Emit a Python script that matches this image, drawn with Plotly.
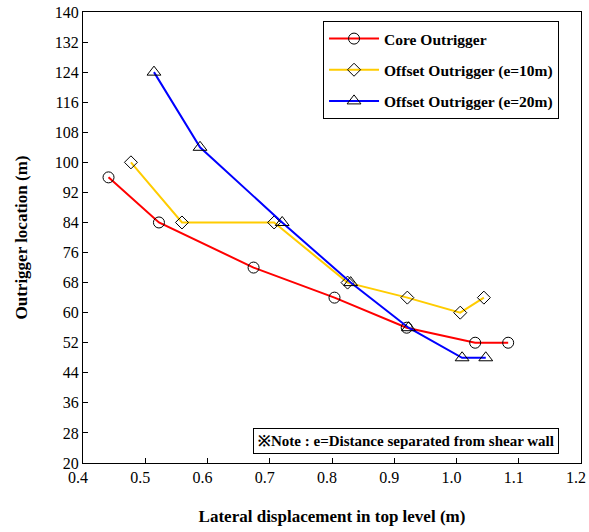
import plotly.graph_objects as go

# Data
core_x = [0.441, 0.522, 0.674, 0.804, 0.920, 1.030, 1.083]
core_y = [96, 84, 72, 64, 56, 52, 52]
off10_x = [0.477, 0.559, 0.707, 0.825, 0.921, 1.006, 1.044]
off10_y = [100, 84, 84, 68, 64, 60, 64]
off20_x = [0.514, 0.588, 0.720, 0.830, 0.923, 1.009, 1.047]
off20_y = [124, 104, 84, 68, 56, 48, 48]

names = ["Core Outrigger", "Offset Outrigger (e=10m)", "Offset Outrigger (e=20m)"]
x_ticks = [0.4, 0.5, 0.6, 0.7, 0.8, 0.9, 1.0, 1.1, 1.2]
y_ticks = list(range(20, 141, 8))

FONT = "'Liberation Serif', 'Times New Roman', Times, serif"

fig = go.Figure()
series = [
    (core_x, core_y, names[0], "#FF0000", "circle-open", 11),
    (off10_x, off10_y, names[1], "#FFCC00", "diamond-open", 10),
    (off20_x, off20_y, names[2], "#0000FF", "triangle-up-open", 12),
]
for i, (xs, ys, nm, col, sym, sz) in enumerate(series):
    fig.add_trace(go.Scatter(
        x=xs, y=ys, name=nm, mode="lines+markers", legendgroup=f"g{i}",
        line=dict(color=col, width=2),
        marker=dict(symbol=sym, size=sz, color="black", line=dict(color="black", width=1)),
    ))

fig.add_annotation(
    x=0.649, y=0.049, xref="paper", yref="paper", xanchor="center", yanchor="middle",
    text="<b>※Note : e=Distance separated from shear wall</b>", showarrow=False,
    font=dict(family=FONT, size=15, color="black"),
    bordercolor="black", borderwidth=1, borderpad=4, bgcolor="white",
)

fig.update_layout(
    width=589, height=532,
    margin=dict(l=83, r=8, t=12, b=69, autoexpand=False),
    paper_bgcolor="white", plot_bgcolor="white",
    font=dict(family=FONT, color="black"),
    legend=dict(
        x=0.482, y=0.98, xanchor="left", yanchor="top",
        bordercolor="black", borderwidth=1, bgcolor="white",
        font=dict(family=FONT, size=15.5, color="black", weight="bold"),
        tracegroupgap=8, itemwidth=50,
    ),
    xaxis=dict(
        range=[0.4, 1.2], tickvals=x_ticks, ticktext=[f"{v:.1f}" for v in x_ticks],
        ticks="inside", ticklen=5, tickcolor="black", ticklabeloverflow="allow",
        ticklabelshift=-5,
        automargin=False,
        showline=True, linecolor="black", linewidth=1, mirror=True,
        showgrid=False, zeroline=False,
        tickfont=dict(family=FONT, size=16),
        title=dict(text="<b>Lateral displacement in top level (m)</b>",
                   font=dict(family=FONT, size=17), standoff=24),
    ),
    yaxis=dict(
        range=[20, 140], tickvals=y_ticks,
        ticks="inside", ticklen=5, tickcolor="black", ticklabeloverflow="allow",
        automargin=False,
        showline=True, linecolor="black", linewidth=1, mirror=True,
        showgrid=False, zeroline=False,
        tickfont=dict(family=FONT, size=16),
        title=dict(text="<b>Outrigger location (m)</b>",
                   font=dict(family=FONT, size=17), standoff=22),
    ),
)

fig.write_html("out.html")
